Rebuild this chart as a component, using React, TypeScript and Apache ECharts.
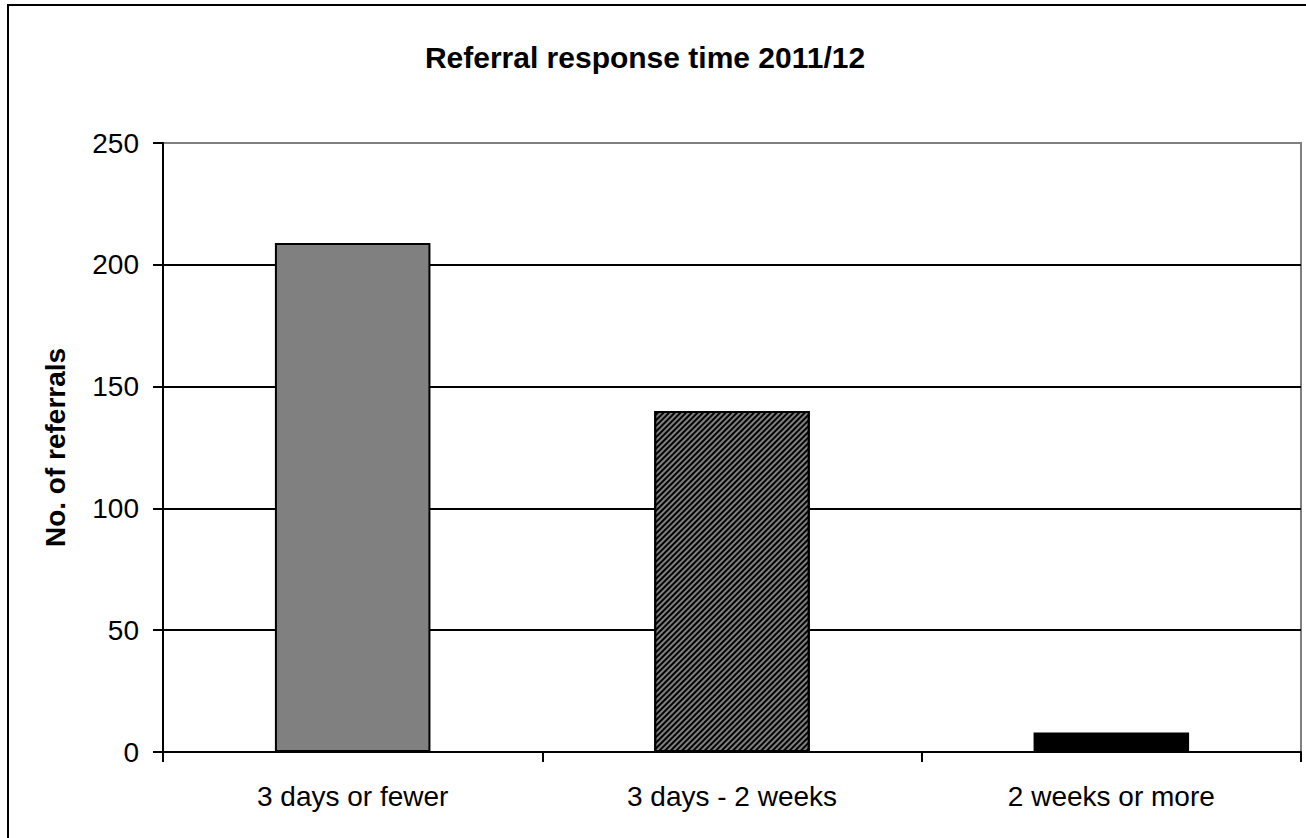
import React, { useEffect, useRef } from "react";
import * as echarts from "echarts";

const categories = ["3 days or fewer", "3 days - 2 weeks", "2 weeks or more"];
const referrals = [209, 140, 8];
const yTicks = { min: 0, max: 250, interval: 50 };
const titleText = "Referral response time 2011/12";
const yName = "No. of referrals";

export default function App() {
  const ref = useRef<HTMLDivElement>(null);
  useEffect(() => {
    if (!ref.current) return;
    const chart = echarts.init(ref.current, null, { renderer: "svg" });
    const font = "Arial, 'Liberation Sans', sans-serif";
    const styles = [
      { color: "#808080", borderColor: "#000", borderWidth: 2 },
      {
        color: "#808080",
        borderColor: "#000",
        borderWidth: 2,
        decal: {
          symbol: "rect",
          symbolSize: 1,
          dashArrayX: [1, 0],
          dashArrayY: [2, 2],
          rotation: -Math.PI / 4,
          color: "#000",
        },
      },
      { color: "#000", borderColor: "#000", borderWidth: 2 },
    ];
    chart.setOption({
      animation: false,
      backgroundColor: "#fff",
      title: {
        text: titleText,
        left: 640,
        textAlign: "center",
        top: 37,
        textStyle: { fontFamily: font, fontSize: 30, fontWeight: "bold", color: "#000" },
      },
      grid: {
        left: 163,
        top: 143,
        right: 5,
        bottom: 86,
        show: true,
        borderColor: "#808080",
        borderWidth: 2,
        backgroundColor: "transparent",
      },
      xAxis: {
        type: "category",
        data: categories,
        axisLine: { show: true, lineStyle: { color: "#000", width: 2 } },
        axisTick: { show: true, length: 10, lineStyle: { color: "#000", width: 2 } },
        axisLabel: { margin: 30, fontFamily: font, fontSize: 28, color: "#000" },
      },
      yAxis: {
        type: "value",
        min: yTicks.min,
        max: yTicks.max,
        interval: yTicks.interval,
        name: yName,
        nameLocation: "middle",
        nameGap: 94,
        nameRotate: 90,
        nameTextStyle: { fontFamily: font, fontSize: 28, fontWeight: "bold", color: "#000" },
        axisLine: { show: true, lineStyle: { color: "#000", width: 2 } },
        axisTick: { show: true, length: 10, lineStyle: { color: "#000", width: 2 } },
        axisLabel: { margin: 24, fontFamily: font, fontSize: 28, color: "#000" },
        splitLine: {
          show: true,
          showMinLine: false,
          showMaxLine: false,
          lineStyle: { color: "#000", width: 2 },
        },
      },
      graphic: [
        {
          type: "rect",
          shape: { x: 8, y: 5, width: 1400, height: 900 },
          style: { fill: "none", stroke: "#000", lineWidth: 2 },
          silent: true,
          z: 100,
        },
      ],
      series: [
        {
          type: "bar",
          barWidth: "41%",
          data: referrals.map((v, i) => ({ value: v, itemStyle: styles[i] })),
        },
      ],
    });
    return () => chart.dispose();
  }, []);
  return (
    <div
      ref={ref}
      style={{ position: "absolute", left: 0, top: 0, width: 1306, height: 838 }}
    />
  );
}
